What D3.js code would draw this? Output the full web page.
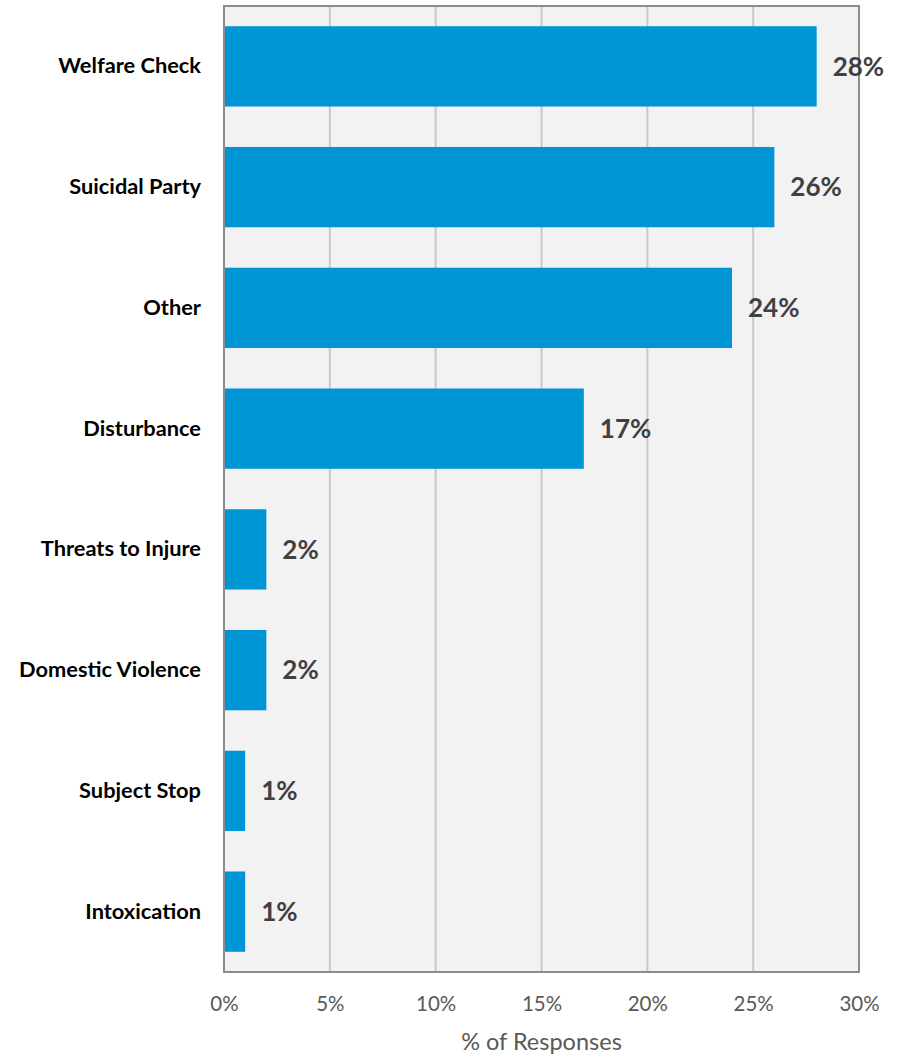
<!DOCTYPE html>
<html>
<head>
<meta charset="utf-8">
<script src="https://cdn.jsdelivr.net/npm/d3@7/dist/d3.min.js"></script>
<style>
  html, body { margin: 0; padding: 0; background: #ffffff; }
  svg { display: block; }
</style>
</head>
<body>
<svg id="chart" width="897" height="1057"></svg>
<script>
// Call types and share of responses (%)
const categories = ["Welfare Check", "Suicidal Party", "Other", "Disturbance",
  "Threats to Injure", "Domestic Violence", "Subject Stop", "Intoxication"];
const values = [28, 26, 24, 17, 2, 2, 1, 1];
const tickValues = [0, 5, 10, 15, 20, 25, 30];
const axisTitle = "% of Responses";

const svg = d3.select("#chart");
const margin = { top: 6, right: 38, bottom: 85, left: 224 };
const width = 897 - margin.left - margin.right;
const height = 1057 - margin.top - margin.bottom;
const font = "Lato, 'Open Sans', sans-serif";

const x = d3.scaleLinear().domain([0, 30]).range([0, width]);
const y = d3.scaleBand().domain(categories).range([0, height]).paddingInner(0.335).paddingOuter(0.1675);

const g = svg.append("g").attr("transform", `translate(${margin.left},${margin.top})`);

// Plot background
g.append("rect").attr("width", width).attr("height", height).attr("fill", "#f2f2f2");

// Vertical gridlines
g.append("g")
  .selectAll("line")
  .data(tickValues.slice(1, -1))
  .join("line")
  .attr("x1", d => x(d)).attr("x2", d => x(d))
  .attr("y1", 0).attr("y2", height)
  .attr("stroke", "#c9c9c9").attr("stroke-width", 2);

// Bars
g.append("g")
  .selectAll("rect")
  .data(values)
  .join("rect")
  .attr("x", 0)
  .attr("y", (d, i) => y(categories[i]))
  .attr("width", d => x(d))
  .attr("height", y.bandwidth())
  .attr("fill", "#0096d6");

// Plot frame
g.append("rect").attr("width", width).attr("height", height)
  .attr("fill", "none").attr("stroke", "#8c8c8c").attr("stroke-width", 2);

// Value labels
g.append("g")
  .selectAll("text")
  .data(values)
  .join("text")
  .attr("x", d => x(d) + 16)
  .attr("y", (d, i) => y(categories[i]) + y.bandwidth() / 2)
  .attr("dy", "0.36em")
  .attr("font-family", font).attr("font-weight", 700).attr("font-size", 26)
  .attr("fill", "#404040")
  .text(d => d + "%");

// Category axis labels
const yAxis = g.append("g").call(d3.axisLeft(y).tickSize(0).tickPadding(23));
yAxis.select(".domain").remove();
yAxis.selectAll("text")
  .attr("font-family", font).attr("font-weight", 700).attr("font-size", 21.8)
  .attr("fill", "#000000");

// Percent axis
const xAxis = g.append("g").attr("transform", `translate(0,${height})`)
  .call(d3.axisBottom(x).tickValues(tickValues).tickFormat(d => d + "%").tickSize(0).tickPadding(24));
xAxis.select(".domain").remove();
xAxis.selectAll("text")
  .attr("font-family", font).attr("font-size", 20.5).attr("fill", "#595959");

// Axis title
g.append("text")
  .attr("x", width / 2).attr("y", height + 78)
  .attr("text-anchor", "middle")
  .attr("font-family", font).attr("font-size", 23.5).attr("fill", "#595959")
  .text(axisTitle);
</script>
</body>
</html>
